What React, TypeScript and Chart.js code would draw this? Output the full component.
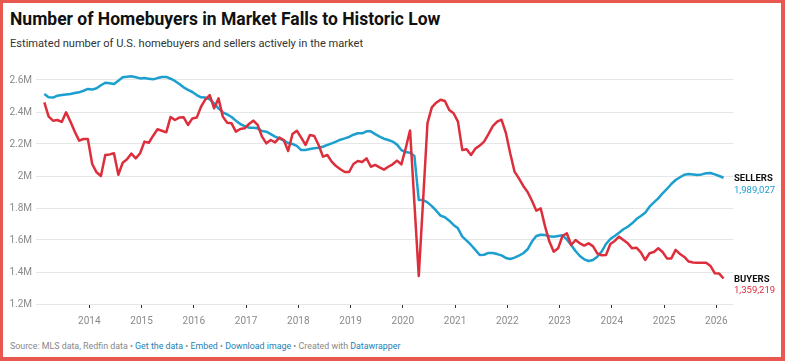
import React, { useEffect, useRef } from "react";
import { Chart, registerables } from "chart.js";

Chart.register(...registerables);

// First observation ≈ late Feb 2013, one value per month after that (millions)
const FIRST_POINT = 2013 + 1.67 / 12;

const sellers = [
  2.512, 2.492, 2.49, 2.502, 2.506, 2.51, 2.512, 2.519, 2.523, 2.533,
  2.544, 2.54, 2.548, 2.567, 2.583, 2.579, 2.575, 2.596, 2.617, 2.621,
  2.623, 2.617, 2.61, 2.612, 2.608, 2.604, 2.612, 2.619, 2.619, 2.608,
  2.594, 2.575, 2.554, 2.538, 2.525, 2.506, 2.492, 2.49, 2.479, 2.454,
  2.423, 2.398, 2.385, 2.369, 2.346, 2.325, 2.312, 2.302, 2.302, 2.298,
  2.281, 2.277, 2.262, 2.246, 2.235, 2.221, 2.206, 2.2, 2.188, 2.162,
  2.162, 2.169, 2.173, 2.177, 2.183, 2.194, 2.204, 2.215, 2.227, 2.235,
  2.244, 2.258, 2.267, 2.267, 2.279, 2.279, 2.262, 2.246, 2.233, 2.225,
  2.215, 2.196, 2.162, 2.15, 2.146, 2.125, 1.85, 1.85, 1.835, 1.812,
  1.783, 1.752, 1.742, 1.721, 1.694, 1.673, 1.621, 1.596, 1.569, 1.538,
  1.506, 1.508, 1.519, 1.519, 1.512, 1.504, 1.488, 1.481, 1.49, 1.502,
  1.517, 1.542, 1.59, 1.625, 1.633, 1.631, 1.623, 1.621, 1.625, 1.629,
  1.604, 1.569, 1.531, 1.5, 1.479, 1.469, 1.475, 1.496, 1.527, 1.575,
  1.606, 1.625, 1.646, 1.667, 1.683, 1.704, 1.731, 1.75, 1.771, 1.808,
  1.835, 1.86, 1.892, 1.919, 1.95, 1.975, 1.992, 2.008, 2.012, 2.01,
  2.006, 2.01, 2.017, 2.019, 2.01, 2.0, 1.989027,
];

const buyers = [
  2.46, 2.371, 2.346, 2.35, 2.338, 2.398, 2.34, 2.277, 2.221, 2.231,
  2.231, 2.075, 2.023, 2.0, 2.131, 2.135, 2.142, 2.008, 2.083, 2.104,
  2.14, 2.11, 2.142, 2.215, 2.208, 2.252, 2.292, 2.283, 2.273, 2.369,
  2.35, 2.365, 2.367, 2.319, 2.36, 2.365, 2.433, 2.479, 2.506, 2.423,
  2.485, 2.371, 2.333, 2.329, 2.277, 2.294, 2.298, 2.325, 2.346, 2.319,
  2.246, 2.204, 2.225, 2.21, 2.24, 2.225, 2.156, 2.262, 2.283, 2.24,
  2.194, 2.256, 2.25, 2.194, 2.121, 2.131, 2.09, 2.062, 2.042, 2.025,
  2.025, 2.075, 2.094, 2.088, 2.11, 2.058, 2.069, 2.054, 2.04, 2.058,
  2.073, 2.096, 2.073, 2.173, 2.285, 1.83, 1.375, 1.85, 2.33, 2.429,
  2.458, 2.477, 2.469, 2.412, 2.392, 2.34, 2.162, 2.167, 2.131, 2.171,
  2.19, 2.215, 2.262, 2.312, 2.34, 2.352, 2.27, 2.142, 2.027, 1.985,
  1.938, 1.9, 1.845, 1.783, 1.798, 1.685, 1.59, 1.527, 1.548, 1.625,
  1.642, 1.569, 1.6, 1.579, 1.565, 1.579, 1.562, 1.517, 1.504, 1.506,
  1.575, 1.594, 1.621, 1.6, 1.579, 1.548, 1.552, 1.523, 1.475, 1.517,
  1.525, 1.548, 1.525, 1.485, 1.485, 1.538, 1.512, 1.494, 1.465, 1.46,
  1.458, 1.458, 1.458, 1.438, 1.392, 1.39, 1.359219,
];

const yTicks = [1.2, 1.4, 1.6, 1.8, 2.0, 2.2, 2.4, 2.6];
const yearTicks = [2014, 2015, 2016, 2017, 2018, 2019, 2020, 2021, 2022, 2023, 2024, 2025, 2026];

const RED = "#dd2e3c";
const BLUE = "#1c9fcf";
const LINK = "#1d7fb5";

export default function App() {
  const ref = useRef<HTMLCanvasElement>(null);

  useEffect(() => {
    if (!ref.current) return;
    const toPts = (arr: number[]) => arr.map((v, i) => ({ x: FIRST_POINT + i / 12, y: v }));

    const endLabels = {
      id: "endLabels",
      afterDatasetsDraw(chart: any) {
        const ctx = chart.ctx;
        const right = chart.chartArea.right;
        chart.data.datasets.forEach((ds: any) => {
          const last = ds.data[ds.data.length - 1];
          const y = chart.scales.y.getPixelForValue(last.y);
          ctx.save();
          ctx.textBaseline = "middle";
          ctx.textAlign = "left";
          ctx.font = "bold 9.5px Roboto";
          ctx.fillStyle = "#111";
          ctx.fillText(ds.label, right + 1, y + 1);
          ctx.font = "9.5px Roboto";
          ctx.fillStyle = ds.borderColor;
          ctx.fillText(Math.round(last.y * 1e6).toLocaleString("en-US"), right + 1, y + 12.5);
          ctx.restore();
        });
      },
    };

    const chart = new Chart(ref.current, {
      type: "line",
      data: {
        datasets: [
          {
            label: "BUYERS",
            data: toPts(buyers),
            borderColor: RED,
            backgroundColor: RED,
            borderWidth: 2.5,
            pointRadius: 0,
            tension: 0,
            borderJoinStyle: "round",
          },
          {
            label: "SELLERS",
            data: toPts(sellers),
            borderColor: BLUE,
            backgroundColor: BLUE,
            borderWidth: 2.5,
            pointRadius: 0,
            tension: 0,
            borderJoinStyle: "round",
          },
        ],
      } as any,
      options: {
        animation: false,
        responsive: false,
        maintainAspectRatio: false,
        layout: { padding: { top: 12, right: 52, left: 0, bottom: 0 } },
        plugins: { legend: { display: false }, tooltip: { enabled: false } },
        scales: {
          x: {
            type: "linear",
            min: 2012.98,
            max: 2026.32,
            afterFit(s: any) {
              s.height = 26;
            },
            afterBuildTicks(s: any) {
              s.ticks = yearTicks.map((v) => ({ value: v }));
            },
            ticks: {
              callback: (v: any) => String(v),
              color: "#8a8a8a",
              font: { family: "Roboto", size: 10 },
              padding: 7,
              maxRotation: 0,
              autoSkip: false,
            },
            grid: {
              drawOnChartArea: false,
              drawTicks: true,
              tickLength: 4,
              tickColor: "#333",
            },
            border: { display: false },
          },
          y: {
            min: 1.2,
            max: 2.65,
            afterFit(s: any) {
              s.width = 36;
            },
            afterBuildTicks(s: any) {
              s.ticks = yTicks.map((v) => ({ value: v }));
            },
            ticks: {
              callback: (v: any) => `${+Number(v).toFixed(1)}M`,
              color: "#8a8a8a",
              font: { family: "Roboto", size: 10 },
              padding: 4,
            },
            grid: { color: "#e6e6e6", lineWidth: 1, drawTicks: false },
            border: { display: false },
          },
        },
      } as any,
      plugins: [endLabels],
    });
    return () => chart.destroy();
  }, []);

  const sep = <span style={{ color: "#888" }}> • </span>;

  return (
    <div
      style={{
        position: "absolute",
        left: 0,
        top: 0,
        width: 785,
        height: 361,
        background: "#fff",
        fontFamily: "Roboto, sans-serif",
        overflow: "hidden",
      }}
    >
      <div
        style={{
          position: "absolute",
          left: 10,
          top: 9,
          fontSize: 17.5,
          lineHeight: "20px",
          fontWeight: 700,
          color: "#111",
          whiteSpace: "nowrap",
        }}
      >
        Number of Homebuyers in Market Falls to Historic Low
      </div>
      <div
        style={{
          position: "absolute",
          left: 10,
          top: 37.5,
          fontSize: 11.1,
          lineHeight: "12px",
          color: "#333",
          whiteSpace: "nowrap",
        }}
      >
        Estimated number of U.S. homebuyers and sellers actively in the market
      </div>
      <canvas
        ref={ref}
        width={785}
        height={270}
        style={{ position: "absolute", left: 0, top: 60, width: 785, height: 270, display: "block" }}
      />
      <div
        style={{
          position: "absolute",
          left: 10,
          top: 340,
          fontSize: 8.85,
          lineHeight: "12px",
          color: "#888",
          whiteSpace: "nowrap",
        }}
      >
        Source: MLS data, Redfin data{sep}
        <span style={{ color: LINK }}>Get the data</span>
        {sep}
        <span style={{ color: LINK }}>Embed</span>
        {sep}
        <span style={{ color: LINK }}>Download image</span>
        {sep}Created with <span style={{ color: LINK }}>Datawrapper</span>
      </div>
      <div
        style={{
          position: "absolute",
          left: 0,
          top: 0,
          width: 785,
          height: 361,
          boxSizing: "border-box",
          borderStyle: "solid",
          borderColor: "#e8584e",
          borderWidth: "3px 4px 4px 3px",
          pointerEvents: "none",
        }}
      />
    </div>
  );
}
